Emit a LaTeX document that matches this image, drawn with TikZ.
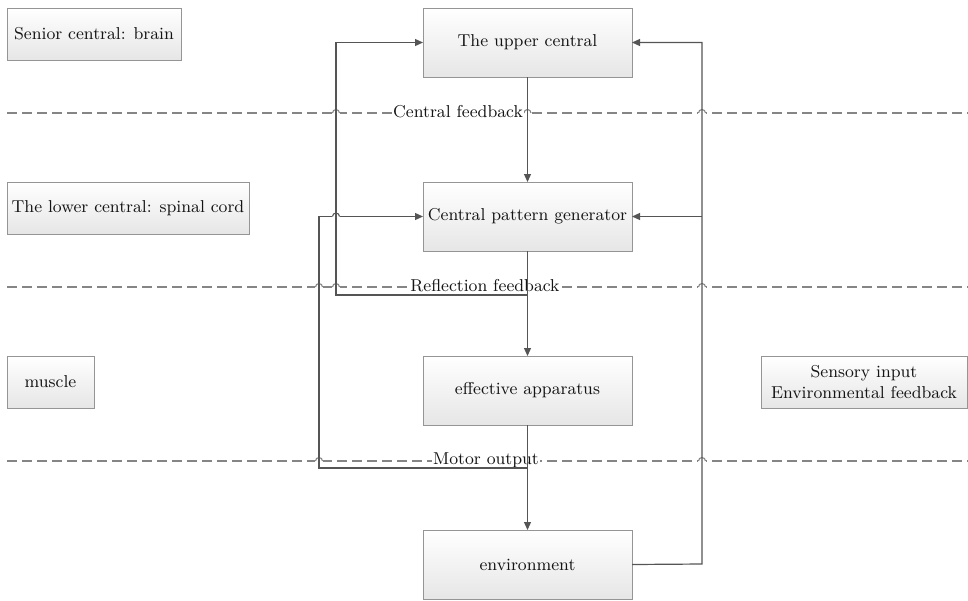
\documentclass[tikz,border=0pt]{standalone}
\usepackage{tikz}
\usetikzlibrary{arrows.meta,positioning,calc,shadows}
\definecolor{ink}{HTML}{141414}
\definecolor{wire}{HTML}{555555}
\definecolor{rim}{HTML}{959595}
\definecolor{shade}{HTML}{E6E6E6}
\definecolor{dashc}{HTML}{858585}
\tikzset{
  lvlbox/.style={rectangle,draw=rim,line width=0.5pt,top color=white,bottom color=shade,
    text=ink,align=center,font=\fontsize{8.6}{10.4}\selectfont,inner sep=1.5pt,outer sep=0pt,
    drop shadow={shadow xshift=0.7pt,shadow yshift=-0.7pt,opacity=0.2}},
  cpgbox/.style={lvlbox,minimum width=104.5pt,minimum height=34.5pt},
  sidebox/.style={lvlbox,minimum height=26pt,anchor=west},
  sigarr/.style={-{Triangle[length=4pt,width=3.5pt]},line width=0.6pt,color=wire},
  tierline/.style={dash pattern=on 5pt off 2.5pt,line width=0.55pt,color=dashc},
  tierlabel/.style={fill=white,text=ink,font=\fontsize{8.6}{10.4}\selectfont,inner sep=0.6pt},
}
% small jump of a line over a crossing one (x, y in px)
\newcommand{\hopover}[3][dashc]{%
  \fill[white] (#2-4.2,#3-1.3) rectangle (#2+4.2,#3+1.3);
  \draw[line width=0.55pt,color=#1] (#2-3.5,#3) arc[start angle=180,end angle=0,radius=1.75pt];
}

\begin{document}
\begin{tikzpicture}[x=0.5pt, y=0.5pt, node distance=52.5pt]
  \useasboundingbox (0,0) rectangle (968,-600);

  % tiers
  \draw[tierline] (7,-113) -- (968,-113);
  \draw[tierline] (7,-287) -- (968,-287);
  \draw[tierline] (7,-461) -- (968,-461);
  \hopover{336}{-113} \hopover{527.5}{-113} \hopover{702}{-113}
  \hopover{319}{-287} \hopover{336}{-287} \hopover{702}{-287}
  \hopover{319}{-461} \hopover{702}{-461}
  \node[tierlabel] (cfb) at (458,-112) {Central feedback};
  \node[tierlabel] (rfb) at (485,-286) {Reflection feedback};
  \node[tierlabel] (mot) at (486,-460) {Motor output};

  % side labels
  \node[sidebox,minimum width=87pt] (brain) at (7,-34) {Senior central: brain};
  \node[sidebox,minimum width=121pt] (spine) at (7,-208) {The lower central: spinal cord};
  \node[sidebox,minimum width=43.5pt] (musc) at (7,-382) {muscle};
  \node[sidebox,minimum width=103pt] (sens) at (761,-382) {Sensory input\\Environmental feedback};

  % main chain
  \node[cpgbox] (up) at (527.5,-42.5) {The upper central};
  \node[cpgbox, below=of up] (cpg) {Central pattern generator};
  \node[cpgbox, below=of cpg] (eff) {effective apparatus};
  \node[cpgbox, below=of eff] (env) {environment};

  \coordinate (rfs) at (527.5,-295);
  \coordinate (rfl) at (336,-295);
  \coordinate (mos) at (527.5,-468);
  \coordinate (mol) at (319,-468);
  \coordinate (sr) at (702,-564);
  \coordinate (sb) at (702,-216.5);

  \draw[sigarr] (up) -- (cpg);
  \draw[sigarr] (cpg) -- (eff);
  \draw[sigarr] (eff) -- (env);
  \draw[sigarr] (mos) -- (mol) |- (cpg.west);
  \hopover[wire]{336}{-216.5}
  \draw[sigarr] (rfs) -- (rfl) |- (up.west);
  \draw[sigarr] (env.east) -- (sr) |- (up.east);
  \draw[sigarr] (sb) -- (cpg.east);
\end{tikzpicture}
\end{document}
